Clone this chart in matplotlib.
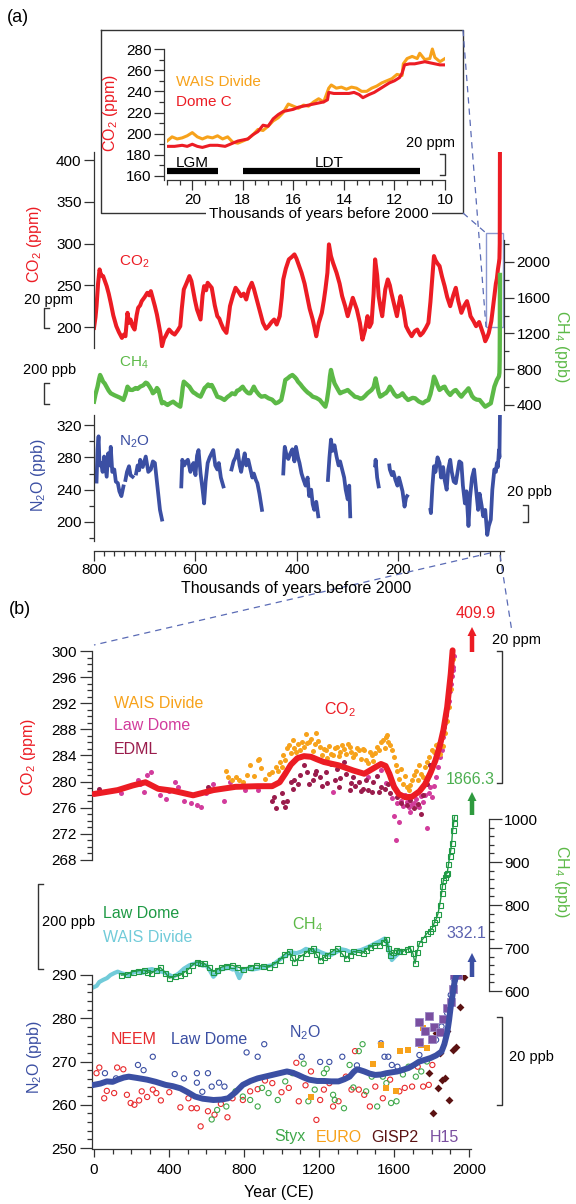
import numpy as np
import matplotlib
matplotlib.use('Agg')
import matplotlib.pyplot as plt
from matplotlib import font_manager
from matplotlib.patches import Rectangle, FancyArrow
from matplotlib.ticker import MultipleLocator

# ---------------- data ----------------
# panel (a): 800 kyr records  [kyr before 2000, value]
co2_a = np.array([
    [800, 199], [797, 212], [795, 225], [792, 252], [789, 269], [786, 262], [782, 261], [778, 254], [775, 249],
    [771, 240], [767, 229], [762, 214], [756, 201], [751, 194], [745, 187], [741, 191], [738, 189], [734, 217],
    [731, 205], [728, 209], [724, 201], [720, 197], [716, 214], [713, 223], [709, 226], [706, 231], [700, 236],
    [695, 241], [691, 238], [688, 243], [684, 234], [680, 225], [676, 215], [673, 205], [669, 192], [666, 177],
    [662, 186], [659, 189], [655, 194], [652, 197], [646, 193], [641, 191], [635, 196], [630, 201], [627, 222],
    [623, 245], [618, 252], [612, 261], [608, 255], [605, 245], [601, 232], [597, 221], [593, 214], [590, 209],
    [586, 238], [583, 249], [579, 244], [576, 253], [572, 250], [568, 247], [562, 226], [557, 213], [553, 210],
    [550, 205], [545, 198], [539, 193], [535, 210], [532, 225], [526, 238], [521, 247], [515, 242], [510, 237],
    [505, 240], [500, 233], [495, 245], [489, 253], [485, 246], [481, 237], [477, 228], [474, 221], [470, 212],
    [467, 205], [461, 198], [456, 201], [450, 206], [445, 209], [440, 203], [434, 213], [430, 235], [427, 257],
    [422, 270], [416, 281], [410, 284], [405, 287], [401, 282], [398, 277], [394, 270], [391, 265], [385, 252],
    [380, 237], [375, 222], [369, 209], [365, 198], [362, 189], [357, 205], [351, 217], [347, 232], [344, 245],
    [340, 265], [337, 299], [333, 285], [329, 277], [325, 270], [322, 265], [316, 252], [311, 237], [305, 225],
    [300, 213], [295, 224], [290, 235], [286, 228], [282, 221], [276, 205], [271, 185], [266, 196], [261, 213],
    [257, 200], [253, 205], [249, 240], [246, 281], [242, 262], [239, 237], [235, 222], [232, 213], [226, 245],
    [221, 257], [217, 250], [214, 241], [208, 226], [203, 213], [199, 228], [196, 237], [190, 220], [185, 201],
    [180, 195], [174, 189], [168, 195], [163, 197], [157, 190], [152, 193], [146, 199], [141, 205], [137, 230],
    [133, 262], [130, 285], [127, 280], [123, 276], [119, 273], [114, 260], [109, 249], [104, 236], [98, 225],
    [92, 238], [87, 247], [82, 231], [76, 217], [70, 226], [65, 231], [61, 222], [58, 213], [52, 207], [47, 201],
    [41, 206], [36, 197], [32, 190], [29, 183], [25, 188], [22, 193], [17, 207], [14, 222], [11, 237], [8, 252],
    [6, 258], [4, 269], [2, 277], [1, 282], [0.4, 300], [0, 410]])

ch4_a = np.array([
    [800, 437], [797, 520], [793, 605], [790, 690], [788, 736], [785, 700], [782, 660], [779, 642], [775, 600],
    [771, 560], [767, 531], [760, 510], [753, 493], [748, 480], [742, 456], [738, 520], [734, 605], [729, 570],
    [724, 568], [718, 590], [714, 580], [709, 605], [703, 620], [698, 650], [695, 642], [690, 600], [686, 560],
    [684, 531], [679, 555], [676, 590], [673, 568], [670, 500], [666, 419], [662, 430], [658, 410], [655, 400],
    [650, 420], [644, 437], [638, 410], [634, 395], [630, 381], [627, 500], [625, 600], [623, 661], [619, 640],
    [615, 620], [612, 605], [607, 560], [604, 540], [601, 531], [596, 510], [590, 493], [586, 540], [582, 590],
    [579, 605], [575, 630], [571, 610], [568, 624], [564, 580], [560, 530], [557, 493], [550, 480], [543, 456],
    [537, 490], [532, 510], [528, 531], [522, 520], [518, 560], [514, 568], [510, 590], [507, 605], [503, 570],
    [498, 540], [495, 530], [492, 531], [488, 570], [485, 605], [481, 560], [477, 530], [474, 510], [470, 493],
    [463, 500], [456, 475], [449, 460], [442, 419], [437, 430], [431, 456], [427, 560], [423, 680], [418, 700],
    [414, 720], [409, 736], [404, 710], [401, 690], [398, 661], [393, 630], [389, 600], [384, 568], [379, 540],
    [374, 520], [369, 493], [362, 480], [355, 456], [350, 420], [347, 400], [344, 381], [341, 450], [337, 605],
    [335, 720], [333, 792], [330, 720], [326, 642], [321, 590], [318, 560], [315, 531], [310, 545], [305, 555],
    [300, 568], [295, 540], [290, 515], [286, 493], [280, 485], [275, 470], [271, 475], [266, 500], [261, 531],
    [257, 550], [253, 568], [249, 600], [245, 698], [242, 620], [239, 540], [236, 493], [231, 510], [228, 525],
    [225, 531], [221, 560], [217, 605], [213, 570], [208, 520], [203, 493], [199, 500], [195, 515], [192, 531],
    [187, 490], [181, 456], [176, 470], [172, 480], [167, 475], [160, 440], [156, 430], [152, 419], [147, 440],
    [141, 456], [137, 520], [133, 620], [130, 717], [127, 680], [123, 620], [119, 568], [115, 585], [112, 600],
    [109, 605], [105, 560], [101, 530], [98, 512], [94, 540], [90, 560], [87, 568], [83, 540], [79, 510],
    [76, 493], [71, 530], [66, 560], [62, 587], [58, 540], [55, 500], [51, 475], [46, 460], [40, 456], [35, 420],
    [32, 400], [29, 381], [25, 395], [21, 410], [18, 419], [15, 500], [12, 580], [11, 605], [8, 650], [6, 680],
    [4, 700], [2, 720], [1, 760], [0.5, 900], [0.2, 1200], [0, 1855]])

nan = np.nan
n2o_a = np.array([
    [795, 250], [793, 290], [791, 306], [789, 270], [786, 273], [783, 262], [780, 281], [777, 266], [775, 256],
    [772, 285], [769, 270], [767, 293], [764, 262], [760, 265], [757, 250], [753, 248], [750, 238], [746, 232],
    [742, 244], [nan, nan],
    [738, 252], [735, 262], [731, 269], [728, 258], [724, 256], [nan, nan],
    [717, 260], [714, 270], [711, 264], [709, 277], [704, 268], [698, 281], [693, 262], [688, 265], [684, 275],
    [680, 273], [676, 250], [673, 232], [670, 215], [666, 203], [nan, nan],
    [628, 244], [626, 277], [622, 270], [618, 275], [615, 277], [610, 262], [607, 268], [604, 273], [600, 258],
    [597, 282], [594, 289], [590, 260], [586, 240], [583, 223], [580, 250], [576, 273], [572, 280], [568, 285],
    [565, 289], [561, 270], [557, 265], [554, 273], [550, 255], [545, 244], [nan, nan],
    [529, 265], [525, 275], [521, 280], [517, 289], [513, 270], [510, 262], [507, 273], [503, 285], [500, 270],
    [496, 277], [492, 266], [488, 255], [485, 260], [481, 252], [478, 248], [474, 235], [469, 215], [nan, nan],
    [427, 260], [425, 285], [424, 293], [420, 281], [417, 278], [413, 285], [409, 290], [405, 275], [402, 293],
    [398, 280], [395, 273], [391, 260], [387, 252], [383, 245], [379, 255], [376, 232], [372, 240], [369, 222],
    [366, 215], [362, 225], [358, 207], [nan, nan],
    [339, 252], [336, 280], [333, 302], [330, 288], [326, 295], [322, 281], [318, 270], [315, 275], [311, 265],
    [307, 255], [304, 240], [300, 228], [297, 245], [295, 207], [nan, nan],
    [246, 270], [245, 277], [242, 255], [239, 244], [nan, nan],
    [218, 270], [217, 265], [213, 258], [210, 262], [206, 252], [202, 245], [199, 255], [196, 248], [192, 238],
    [188, 219], [185, 230], [183, 232], [nan, nan],
    [137, 215], [136, 211], [133, 245], [130, 269], [127, 262], [123, 280], [119, 273], [116, 255], [112, 268],
    [109, 252], [105, 240], [102, 265], [98, 277], [95, 262], [91, 250], [87, 248], [84, 260], [80, 275],
    [76, 273], [73, 245], [69, 223], [66, 238], [62, 195], [59, 230], [55, 255], [51, 265], [47, 240], [43, 215],
    [40, 235], [36, 220], [33, 207], [29, 215], [25, 184], [22, 195], [18, 203], [15, 240], [11, 265], [8, 262],
    [6, 273], [4, 268], [2, 289], [1, 280], [0, 332]])

# inset: deglaciation CO2 [kyr, ppm]
wais_in = np.array([
    [21.0, 193], [20.8, 197], [20.6, 195], [20.4, 196], [20.2, 198], [20.0, 201], [19.8, 197], [19.6, 195],
    [19.4, 197], [19.2, 196], [19.0, 198], [18.8, 195], [18.6, 197], [18.4, 192], [18.2, 191], [18.0, 193],
    [17.8, 195], [17.6, 199], [17.4, 204], [17.2, 203], [17.0, 207], [16.8, 212], [16.6, 215], [16.4, 220],
    [16.2, 228], [16.0, 226], [15.8, 224], [15.6, 227], [15.4, 226], [15.2, 230], [15.0, 233], [14.8, 230],
    [14.6, 243], [14.5, 246], [14.3, 243], [14.1, 244], [13.9, 242], [13.7, 244], [13.5, 243], [13.3, 240],
    [13.1, 240], [12.9, 243], [12.7, 245], [12.5, 248], [12.3, 250], [12.1, 252], [11.9, 256], [11.7, 255],
    [11.65, 266], [11.5, 271], [11.3, 273], [11.1, 271], [11.0, 276], [10.8, 270], [10.6, 271], [10.5, 280],
    [10.4, 272], [10.2, 268], [10.0, 271]])
domec_in = np.array([
    [21.0, 188], [20.7, 188], [20.4, 189], [20.2, 188], [20.0, 190], [19.8, 188], [19.6, 187], [19.3, 189],
    [19.0, 189], [18.7, 188], [18.4, 191], [18.2, 193], [18.0, 194], [17.8, 195], [17.6, 199], [17.4, 202],
    [17.2, 208], [17.0, 207], [16.8, 214], [16.6, 218], [16.4, 221], [16.2, 222], [16.0, 223], [15.8, 225],
    [15.6, 226], [15.4, 227], [15.2, 228], [15.0, 229], [14.8, 230], [14.65, 232], [14.6, 239], [14.4, 238],
    [14.2, 238], [14.0, 238], [13.8, 238], [13.6, 239], [13.4, 237], [13.25, 234], [13.0, 237], [12.8, 239],
    [12.6, 242], [12.4, 245], [12.2, 248], [12.0, 250], [11.8, 253], [11.7, 257], [11.6, 265], [11.4, 266],
    [11.2, 266], [11.0, 267], [10.8, 268], [10.6, 267], [10.4, 266], [10.2, 265], [10.0, 265]])
lgm_span = [21, 19]
ldt_span = [18, 11]

# panel (b): last 2000 years [year CE, value]
co2_b_fit = np.array([
    [0, 278.1], [127, 278.7], [206, 279.4], [275, 279.9], [343, 278.9], [422, 278.6], [529, 277.9], [637, 278.7],
    [755, 279.2], [873, 279.3], [950, 279.3], [990, 279.9], [1020, 281.2], [1050, 282.6], [1085, 283.6],
    [1120, 283.9], [1157, 283.8], [1190, 283.4], [1226, 283.0], [1304, 282.5], [1383, 281.7], [1441, 281.2],
    [1500, 282.2], [1530, 282.7], [1555, 282.4], [1575, 281.2], [1600, 279.2], [1625, 278.1], [1660, 277.6],
    [1696, 277.7], [1735, 278.5], [1765, 279.6], [1795, 281.4], [1820, 283.2], [1845, 285.6], [1863, 287.9],
    [1883, 291.4], [1902, 296.5], [1912, 300.1]])
wais_co2_b = np.array([
    [706, 281.7], [716, 280.7], [735, 280.3], [755, 280.7], [775, 280.2], [794, 279.9], [814, 281.0], [833, 282.5],
    [853, 280.8], [873, 283.3], [882, 283.5], [892, 282.1], [912, 280.4], [931, 281.2], [951, 281.5], [970, 282.3],
    [980, 281.7], [990, 283.0], [1000, 282.2], [1010, 284.0], [1020, 283.3], [1029, 285.1], [1039, 285.6],
    [1049, 284.4], [1059, 286.3], [1069, 285.2], [1078, 284.6], [1088, 285.8], [1098, 284.9], [1108, 286.0],
    [1118, 285.3], [1128, 287.3], [1137, 285.9], [1147, 286.1], [1157, 286.6], [1167, 284.7], [1177, 285.8],
    [1186, 287.4], [1196, 286.2], [1206, 285.3], [1216, 284.1], [1226, 285.0], [1235, 284.8], [1245, 283.6],
    [1255, 285.4], [1265, 284.3], [1275, 284.0], [1284, 285.2], [1294, 285.3], [1304, 283.9], [1314, 284.6],
    [1324, 285.6], [1333, 285.0], [1343, 284.2], [1353, 285.8], [1363, 285.3], [1373, 284.5], [1383, 283.7],
    [1392, 284.3], [1402, 285.1], [1412, 284.8], [1422, 283.5], [1432, 285.0], [1441, 284.8], [1451, 283.3],
    [1461, 282.9], [1471, 284.6], [1481, 284.0], [1490, 283.1], [1500, 284.4], [1510, 285.3], [1520, 284.8],
    [1530, 286.0], [1539, 286.3], [1549, 285.1], [1559, 286.8], [1563, 287.2], [1569, 286.1], [1579, 285.6],
    [1588, 284.9], [1598, 283.8], [1608, 282.5], [1618, 281.7], [1628, 280.4], [1637, 281.9], [1647, 279.7],
    [1657, 280.8], [1667, 279.2], [1677, 278.7], [1686, 279.5], [1696, 280.3], [1706, 281.0], [1716, 281.7],
    [1726, 280.2], [1735, 282.6], [1745, 281.1], [1755, 280.7], [1765, 282.2], [1775, 283.0], [1785, 283.8],
    [1794, 282.6], [1804, 284.8], [1814, 284.5], [1824, 285.6], [1834, 285.8], [1843, 284.2], [1853, 286.8],
    [1863, 285.4], [1873, 287.5], [1883, 289.3], [1892, 291.5], [1902, 294.2], [1912, 298.8]])
lawdome_co2_b = np.array([
    [147, 278.2], [235, 280.2], [245, 279.6], [265, 278.4], [284, 281.0], [304, 281.5], [353, 277.9], [382, 277.4],
    [402, 278.5], [431, 279.9], [451, 279.1], [480, 277.1], [519, 276.8], [549, 276.4], [569, 276.1], [598, 278.2],
    [618, 278.9], [637, 279.7], [696, 277.1], [726, 279.9], [804, 278.7], [873, 278.7], [1275, 278.4],
    [1461, 280.7], [1530, 281.8], [1559, 279.8], [1588, 277.5], [1598, 274.8], [1608, 271.0], [1618, 276.7],
    [1628, 273.8], [1637, 277.0], [1647, 276.3], [1657, 277.9], [1667, 276.9], [1677, 276.1], [1686, 275.3],
    [1696, 276.6], [1706, 276.8], [1716, 277.3], [1726, 276.2], [1735, 276.1], [1745, 277.8], [1755, 276.9],
    [1765, 277.9], [1775, 272.9], [1785, 278.3], [1794, 279.1], [1804, 277.6], [1814, 279.4], [1824, 280.7],
    [1834, 282.3], [1843, 283.8], [1853, 284.9], [1863, 286.8], [1868, 288.3], [1873, 288.9], [1878, 290.2],
    [1883, 291.3], [1888, 292.0], [1892, 292.4], [1897, 293.9], [1902, 295.0], [1907, 296.2], [1912, 297.1],
    [1916, 297.6], [1920, 299.2]])
edml_co2_b = np.array([
    [29, 278.9], [608, 279.2], [951, 277.1], [961, 277.6], [971, 276.0], [1000, 278.2], [1010, 276.9],
    [1020, 276.1], [1029, 277.1], [1049, 279.9], [1059, 278.8], [1069, 280.2], [1088, 279.7], [1098, 281.0],
    [1118, 282.5], [1137, 281.5], [1147, 279.6], [1167, 280.2], [1176, 281.1], [1186, 281.7], [1206, 280.7],
    [1216, 279.3], [1235, 281.5], [1245, 279.8], [1265, 282.7], [1284, 280.2], [1294, 281.9], [1304, 279.2],
    [1314, 280.6], [1333, 283.0], [1343, 281.2], [1363, 278.7], [1373, 279.8], [1383, 280.7], [1392, 279.3],
    [1412, 279.9], [1422, 278.6], [1432, 278.9], [1451, 280.3], [1461, 278.7], [1481, 278.4], [1490, 279.9],
    [1510, 280.8], [1520, 278.4], [1530, 279.2], [1549, 278.9], [1569, 279.6], [1579, 278.2], [1598, 279.1],
    [1618, 277.6], [1637, 276.8], [1667, 276.4], [1686, 277.2], [1706, 275.9], [1726, 276.6], [1745, 275.1],
    [1755, 278.0], [1775, 279.7], [1784, 281.0], [1794, 282.5]])

wais_ch4_b = np.array([
    [0, 609], [15, 612], [29, 621], [50, 626], [70, 630], [88, 637], [110, 642], [127, 645], [150, 641],
    [170, 639], [186, 637], [210, 643], [235, 646], [260, 642], [284, 649], [310, 651], [340, 646], [363, 645],
    [390, 640], [422, 633], [450, 640], [480, 652], [510, 660], [539, 664], [560, 663], [580, 659], [598, 660],
    [615, 650], [637, 633], [655, 642], [675, 650], [696, 652], [720, 654], [740, 650], [755, 652], [765, 640],
    [775, 630], [785, 640], [794, 649], [820, 652], [845, 650], [873, 652], [900, 655], [925, 658], [951, 660],
    [975, 668], [1000, 676], [1029, 684], [1050, 690], [1080, 688], [1108, 692], [1130, 698], [1160, 694],
    [1186, 695], [1210, 690], [1240, 685], [1265, 684], [1290, 690], [1320, 697], [1343, 695], [1370, 690],
    [1400, 693], [1422, 695], [1450, 700], [1475, 705], [1500, 711], [1525, 716], [1549, 722], [1560, 715],
    [1575, 690], [1588, 672], [1605, 680], [1620, 686], [1637, 692]])
lawdome_ch4_b = np.array([
    [147, 637], [176, 639], [206, 645], [235, 647], [265, 649], [284, 645], [304, 641], [330, 648], [353, 655],
    [380, 643], [402, 630], [430, 634], [461, 637], [480, 643], [500, 649], [525, 660], [549, 668], [568, 665],
    [588, 664], [612, 655], [637, 645], [657, 650], [677, 655], [705, 659], [735, 660], [765, 656], [794, 652],
    [830, 656], [863, 660], [900, 658], [932, 656], [960, 663], [990, 672], [1015, 685], [1039, 692], [1055, 680],
    [1069, 668], [1098, 679], [1128, 688], [1150, 695], [1167, 699], [1186, 685], [1206, 672], [1225, 678],
    [1245, 684], [1270, 692], [1294, 699], [1320, 688], [1343, 676], [1363, 684], [1383, 692], [1410, 690],
    [1432, 688], [1450, 696], [1471, 703], [1495, 706], [1520, 707], [1540, 714], [1559, 722], [1570, 700],
    [1579, 684], [1595, 690], [1608, 695], [1628, 694], [1647, 692], [1667, 697], [1686, 699], [1700, 688],
    [1712, 664], [1722, 690], [1735, 711], [1755, 722], [1775, 734], [1790, 740], [1804, 746], [1815, 760],
    [1825, 768], [1834, 780], [1843, 800], [1853, 827], [1858, 845], [1863, 858], [1870, 865], [1878, 872],
    [1883, 874], [1890, 895], [1897, 915], [1902, 928], [1907, 945], [1912, 974], [1917, 990], [1922, 1005]])

lawdome_n2o_fit = np.array([
    [0, 264.6], [35, 264.9], [69, 265.4], [100, 265.3], [127, 265.8], [160, 266.3], [186, 266.5], [230, 266.2],
    [284, 265.8], [330, 265.3], [382, 264.6], [420, 264.3], [461, 263.8], [500, 262.9], [539, 261.9], [580, 261.4],
    [637, 261.1], [680, 261.2], [716, 261.5], [755, 262.9], [794, 264.6], [835, 265.5], [873, 266.1], [912, 266.5],
    [951, 266.9], [990, 267.3], [1029, 267.7], [1060, 267.4], [1088, 266.9], [1118, 266.3], [1147, 265.8],
    [1190, 265.5], [1226, 265.5], [1265, 265.4], [1304, 265.4], [1335, 265.9], [1363, 266.5], [1385, 267.6],
    [1402, 268.2], [1420, 268.0], [1441, 267.7], [1470, 267.2], [1500, 266.9], [1530, 267.0], [1559, 267.3],
    [1588, 267.5], [1618, 267.7], [1648, 268.1], [1677, 268.5], [1706, 269.2], [1735, 270.0], [1765, 270.4],
    [1794, 270.8], [1824, 271.4], [1853, 272.3], [1868, 274.0], [1883, 276.6], [1893, 279.5], [1902, 282.7],
    [1912, 285.5], [1922, 288.3], [1932, 290.0], [1950, 290.5]])
lawdome_n2o_pts = np.array([
    [59, 267.3], [118, 266.1], [235, 269.2], [265, 268.0], [314, 271.1], [431, 267.1], [480, 266.1], [549, 265.1],
    [549, 267.3], [578, 263.0], [608, 267.3], [628, 264.2], [667, 265.1], [696, 264.2], [814, 272.1], [873, 271.1],
    [908, 274.0], [1108, 271.1], [1206, 269.9], [1255, 269.9], [1324, 271.1], [1402, 269.1], [1530, 274.2],
    [1549, 271.1], [1569, 271.1], [1588, 269.2], [1618, 268.8], [1735, 271.5], [1824, 275.0], [1853, 278.1],
    [1883, 281.2], [1902, 285.4], [1922, 288.8]])
neem_n2o = np.array([
    [14, 267.3], [29, 268.6], [55, 261.5], [69, 263.2], [108, 262.7], [124, 268.6], [157, 268.2], [176, 262.3],
    [196, 260.4], [216, 260.0], [241, 261.0], [255, 263.1], [284, 261.8], [314, 263.5], [333, 262.7], [357, 261.0],
    [402, 262.9], [461, 259.4], [504, 261.5], [520, 259.2], [549, 259.2], [569, 255.0], [608, 258.5], [643, 257.7],
    [677, 260.2], [712, 257.1], [739, 261.5], [794, 261.1], [833, 263.1], [873, 263.6], [912, 265.6], [951, 265.0],
    [1000, 262.9], [1039, 263.9], [1079, 269.7], [1092, 260.8], [1128, 264.5], [1157, 267.7], [1186, 256.5],
    [1206, 261.1], [1226, 263.5], [1255, 265.0], [1275, 259.6], [1304, 260.8], [1343, 266.5], [1373, 263.5],
    [1392, 272.4], [1412, 263.5], [1441, 262.3], [1471, 259.6], [1500, 264.2], [1540, 261.5], [1579, 265.8],
    [1628, 263.1], [1657, 263.9], [1696, 264.2], [1726, 268.8], [1755, 264.2], [1785, 264.6], [1804, 269.2]])
styx_n2o = np.array([
    [628, 256.6], [657, 258.8], [706, 259.6], [755, 263.1], [794, 261.9], [833, 261.1], [873, 259.6], [896, 263.9],
    [931, 262.7], [980, 261.1], [1020, 265.4], [1059, 267.3], [1118, 269.5], [1143, 260.8], [1177, 263.5],
    [1226, 267.3], [1241, 268.3], [1275, 262.3], [1284, 261.1], [1333, 259.2], [1363, 269.2], [1383, 264.0],
    [1412, 272.4], [1432, 274.0], [1451, 263.1], [1481, 266.5], [1510, 259.6], [1540, 266.5], [1559, 265.0],
    [1584, 260.4], [1613, 260.8], [1647, 267.0], [1677, 268.8], [1716, 266.5], [1745, 267.7], [1775, 270.0]])
euro_n2o = np.array([
    [1157, 261.9], [1490, 269.5], [1530, 273.9], [1559, 263.9], [1608, 263.1], [1633, 272.5], [1673, 272.6],
    [1743, 273.7], [1753, 277.7], [1775, 273.1]])
gisp2_n2o = np.array([
    [1785, 267.3], [1810, 258.0], [1824, 276.6], [1834, 263.9], [1843, 272.0], [1853, 265.8], [1873, 266.1],
    [1883, 277.0], [1892, 261.1], [1912, 272.7], [1932, 273.4], [1951, 282.6], [1971, 289.6]])
h15_n2o = np.array([
    [1735, 279.2], [1735, 274.5], [1765, 277.1], [1785, 280.6], [1804, 275.3], [1814, 278.0], [1843, 276.8],
    [1863, 279.9], [1883, 282.3], [1902, 283.8], [1912, 286.8], [1922, 289.9], [1941, 290.0]])

latest = {'co2': '409.9', 'ch4': '1866.3', 'n2o': '332.1'}

# ---------------- style ----------------
names = {f.name for f in font_manager.fontManager.ttflist}
fam = 'Liberation Sans Narrow' if 'Liberation Sans Narrow' in names else 'Liberation Sans'
plt.rcParams['font.family'] = [fam, 'DejaVu Sans']
plt.rcParams['mathtext.fontset'] = 'custom'
plt.rcParams['mathtext.rm'] = fam
plt.rcParams['mathtext.it'] = fam
plt.rcParams['mathtext.bf'] = fam

RED = '#ec1c24'; GREEN = '#5cb947'; BLUE = '#3b4fa3'; ORANGE = '#f7a21b'
MAGENTA = '#d23c9c'; MAROON = '#9a1c4c'; DKGREEN = '#1f9a45'; LTBLUE = '#71cbd9'
BROWN = '#5b1212'; PURPLE = '#7a4fa0'; STYX = '#3fa84a'; NEEM = '#e82a2d'
TICK = '#333333'; DASH = '#5a6bb5'

W, H = 576, 1204
fig = plt.figure(figsize=(W / 100, H / 100), dpi=100)


def px_axes(l, t, r, b):
    ax = fig.add_axes([l / W, 1 - b / H, (r - l) / W, (b - t) / H])
    ax.patch.set_visible(False)
    for s in ax.spines.values():
        s.set_visible(False)
        s.set_color(TICK)
        s.set_linewidth(0.9)
    ax.tick_params(which='both', colors=TICK, labelcolor='black', labelsize=11, width=0.9, direction='out')
    ax.tick_params(which='major', length=7, pad=2)
    ax.tick_params(which='minor', length=3.5)
    ax.set_xticks([]); ax.set_yticks([])
    return ax


def yaxis(ax, side, major, minor, bounds=None):
    ax.spines[side].set_visible(True)
    if bounds:
        ax.spines[side].set_bounds(*bounds)
    if side == 'right':
        ax.yaxis.tick_right()
    ax.yaxis.set_major_locator(MultipleLocator(major))
    ax.yaxis.set_minor_locator(MultipleLocator(minor))


# ---------------- panel (a) ----------------
XL = (800, -8)
ax_co2 = px_axes(94, 152, 504, 348)
ax_co2.set_xlim(*XL); ax_co2.set_ylim(174.9, 409.6)
yaxis(ax_co2, 'left', 50, 50)
ax_co2.plot(co2_a[:, 0], co2_a[:, 1], color=RED, lw=2.9)
ax_co2.add_patch(Rectangle((27.6, 200), -33.5, 112.6, fill=False, ec='#8a97cf', lw=1, clip_on=False))

ax_ch4 = px_axes(94, 240, 504, 410)
ax_ch4.set_xlim(*XL); ax_ch4.set_ylim(344, 2246)
yaxis(ax_ch4, 'right', 400, 200)
ax_ch4.plot(ch4_a[:, 0], ch4_a[:, 1], color=GREEN, lw=3.1)

ax_n2o = px_axes(94, 415, 504, 551)
ax_n2o.set_xlim(*XL); ax_n2o.set_ylim(164.1, 332.4)
yaxis(ax_n2o, 'left', 40, 20, (176, 332.4))
ax_n2o.yaxis.set_major_locator(plt.FixedLocator([200, 240, 280, 320]))
ax_n2o.spines['bottom'].set_visible(True)
ax_n2o.xaxis.set_major_locator(MultipleLocator(200))
ax_n2o.xaxis.set_minor_locator(MultipleLocator(20))
ax_n2o.plot(n2o_a[:, 0], n2o_a[:, 1], color=BLUE, lw=2.7)

# inset
ax_in = px_axes(167, 45, 445, 180)
ax_in.set_xlim(21, 10); ax_in.set_ylim(156.2, 283.8)
yaxis(ax_in, 'left', 20, 10, (156.2, 280))
ax_in.spines['left'].set_position(('outward', 2))
ax_in.spines['bottom'].set_visible(True)
ax_in.xaxis.set_major_locator(MultipleLocator(2))
ax_in.xaxis.set_minor_locator(MultipleLocator(0.5))
ax_in.plot(wais_in[:, 0], wais_in[:, 1], color=ORANGE, lw=2.2)
ax_in.plot(domec_in[:, 0], domec_in[:, 1], color=RED, lw=2.2)
ax_in.plot(lgm_span, [165, 165], color='black', lw=4.5, solid_capstyle='butt')
ax_in.plot(ldt_span, [165, 165], color='black', lw=4.5, solid_capstyle='butt')
ax_in.text(np.mean(lgm_span), 172.3, 'LGM', ha='center', va='center', fontsize=11)
ax_in.text(14.6, 172.3, 'LDT', ha='center', va='center', fontsize=11)

# ---------------- panel (b) ----------------
ax_b1 = px_axes(92, 645, 471, 865)
ax_b1.set_xlim(-10, 2010); ax_b1.set_ylim(267.23, 300.92)
yaxis(ax_b1, 'left', 4, 1, (268, 300))
ax_b1.tick_params(which='major', length=9)
ax_b1.scatter(lawdome_co2_b[:, 0], lawdome_co2_b[:, 1], s=13, color=MAGENTA, lw=0, zorder=2)
ax_b1.scatter(wais_co2_b[:, 0], wais_co2_b[:, 1], s=13, color=ORANGE, lw=0, zorder=2)
ax_b1.scatter(edml_co2_b[:, 0], edml_co2_b[:, 1], s=13, color=MAROON, lw=0, zorder=2)
ax_b1.plot(co2_b_fit[:, 0], co2_b_fit[:, 1], color=RED, lw=4.3, zorder=3, solid_capstyle='round',
           solid_joinstyle='round')

ax_b2 = px_axes(92, 812, 489, 995)
ax_b2.set_xlim(-10, 2105.9); ax_b2.set_ylim(590.7, 1016.3)
yaxis(ax_b2, 'right', 100, 20, (600, 1000))
ax_b2.tick_params(which='major', length=9)
ax_b2.plot(wais_ch4_b[:, 0], wais_ch4_b[:, 1], color=LTBLUE, lw=3)
ax_b2.plot(lawdome_ch4_b[:, 0], lawdome_ch4_b[:, 1], color=DKGREEN, lw=1, marker='s', ms=3.6,
           mfc='none', mec=DKGREEN, mew=0.8)

ax_b3 = px_axes(92, 975, 471, 1149)
ax_b3.set_xlim(-10, 2010); ax_b3.set_ylim(249.77, 290)
yaxis(ax_b3, 'left', 10, 2, (250, 290))
ax_b3.tick_params(which='major', length=9)
ax_b3.spines['bottom'].set_visible(True)
ax_b3.xaxis.set_major_locator(MultipleLocator(400))
ax_b3.xaxis.set_minor_locator(MultipleLocator(100))
ax_b3.tick_params(axis='x', which='major', length=6, pad=4)
ax_b3.scatter(neem_n2o[:, 0], neem_n2o[:, 1], s=14, facecolors='none', edgecolors=NEEM, lw=0.8)
ax_b3.scatter(styx_n2o[:, 0], styx_n2o[:, 1], s=14, facecolors='none', edgecolors=STYX, lw=0.8)
ax_b3.scatter(lawdome_n2o_pts[:, 0], lawdome_n2o_pts[:, 1], s=14, facecolors='none', edgecolors=BLUE, lw=0.8)
ax_b3.scatter(euro_n2o[:, 0], euro_n2o[:, 1], s=22, marker='s', color=ORANGE, lw=0)
ax_b3.scatter(gisp2_n2o[:, 0], gisp2_n2o[:, 1], s=16, marker='D', color=BROWN, lw=0)
ax_b3.scatter(h15_n2o[:, 0], h15_n2o[:, 1], s=30, marker='s', color=PURPLE, lw=0.6, edgecolors='#9a86c4')
ax_b3.plot(lawdome_n2o_fit[:, 0], lawdome_n2o_fit[:, 1], color=BLUE, lw=4.3, zorder=3,
           solid_joinstyle='round')

# ---------------- overlay for labels, brackets, connectors ----------------
ov = fig.add_axes([0, 0, 1, 1])
ov.set_xlim(0, W); ov.set_ylim(H, 0); ov.axis('off'); ov.patch.set_visible(False)
ov.set_zorder(10)


def txt(x, y, s, color='black', size=11, ha='center', rot=0, **kw):
    ov.text(x, y, s, color=color, fontsize=size, ha=ha, va='center', rotation=rot, **kw)


def bracket(x, y0, y1, side, w=5):
    d = w if side == 'left' else -w
    ov.plot([x + d, x, x, x + d], [y0, y0, y1, y1], color=TICK, lw=1)


def arrow(x, y0, y1, color):
    ov.add_patch(FancyArrow(x, y0, 0, y1 - y0, width=4.5, head_width=9, head_length=9,
                            length_includes_head=True, color=color, lw=0))


# inset frame and connectors
ov.plot([101, 463, 463, 101, 101], [30, 30, 213, 213, 30], color=TICK, lw=1)
ov.plot([463, 486], [30, 327], color=DASH, lw=0.9, ls=(0, (5, 4)))
ov.plot([463, 486], [213, 233], color=DASH, lw=0.9, ls=(0, (5, 4)))
ov.plot([490, 94], [553, 645], color=DASH, lw=0.9, ls=(0, (5, 4)))
ov.plot([500, 512], [555, 632], color=DASH, lw=0.9, ls=(0, (5, 4)))

txt(319, 214, 'Thousands of years before 2000', size=11,
    bbox=dict(facecolor='white', edgecolor='none', pad=2))
txt(110, 113, 'CO$_2$ (ppm)', RED, 11.5, rot=90)
txt(176, 82, 'WAIS Divide', ORANGE, 11, ha='left')
txt(176, 102, 'Dome C', RED, 11, ha='left')
txt(430, 143, '20 ppm', size=10.5)
bracket(445, 154, 175, 'right')

txt(18, 18, '(a)', size=13)
txt(35, 244, 'CO$_2$ (ppm)', RED, 11.5, rot=90)
txt(39, 475, 'N$_2$O (ppb)', BLUE, 11.5, rot=90)
txt(562, 346, 'CH$_4$ (ppb)', GREEN, 11.5, rot=270)
txt(134, 262, 'CO$_2$', RED, 11)
txt(134, 363, 'CH$_4$', GREEN, 11)
txt(134, 442, 'N$_2$O', BLUE, 11)
txt(48, 300, '20 ppm', size=10.5)
bracket(44, 308, 328, 'left')
txt(50, 370, '200 ppb', size=10.5)
bracket(44, 383, 404, 'left')
txt(529, 492, '20 ppb', size=10.5)
bracket(528, 505, 522, 'right')
txt(296, 588, 'Thousands of years before 2000', size=11.5)

txt(20, 610, '(b)', size=13)
txt(29, 757, 'CO$_2$ (ppm)', RED, 11.5, rot=90)
txt(35, 1057, 'N$_2$O (ppb)', BLUE, 11.5, rot=90)
txt(561, 881, 'CH$_4$ (ppb)', GREEN, 11.5, rot=270)
txt(114, 703, 'WAIS Divide', ORANGE, 11.5, ha='left')
txt(114, 726, 'Law Dome', MAGENTA, 11.5, ha='left')
txt(114, 749, 'EDML', MAROON, 11.5, ha='left')
txt(340, 710, 'CO$_2$', RED, 11.5)
txt(476, 613, latest['co2'], RED, 11.5)
arrow(472, 652, 627, RED)
txt(516, 640, '20 ppm', size=10.5)
bracket(502, 651, 783, 'right')
txt(470, 780, latest['ch4'], '#4caf50', 11.5)
arrow(472, 815, 792, '#2e9a3e')

bracket(38, 884, 969, 'left')
txt(42, 922, '200 ppb', size=10.5, ha='left')
txt(103, 913, 'Law Dome', DKGREEN, 11.5, ha='left')
txt(103, 938, 'WAIS Divide', LTBLUE, 11.5, ha='left')
txt(308, 925, 'CH$_4$', GREEN, 11.5)
txt(466, 933, latest['n2o'], '#5b62b0', 11.5)
arrow(472, 977, 953, BLUE)

txt(531, 1057, '20 ppb', size=10.5)
bracket(502, 1017, 1105, 'right')
txt(134, 1039, 'NEEM', NEEM, 11.5)
txt(209, 1039, 'Law Dome', BLUE, 11.5)
txt(305, 1033, 'N$_2$O', BLUE, 11.5)
txt(274, 1137, 'Styx', STYX, 11.5, ha='left')
txt(316, 1137, 'EURO', ORANGE, 11.5, ha='left')
txt(371, 1137, 'GISP2', BROWN, 11.5, ha='left')
txt(430, 1137, 'H15', PURPLE, 11.5, ha='left')
txt(279, 1193, 'Year (CE)', size=11.5)

fig.savefig('out.png', dpi=100, facecolor='white')
